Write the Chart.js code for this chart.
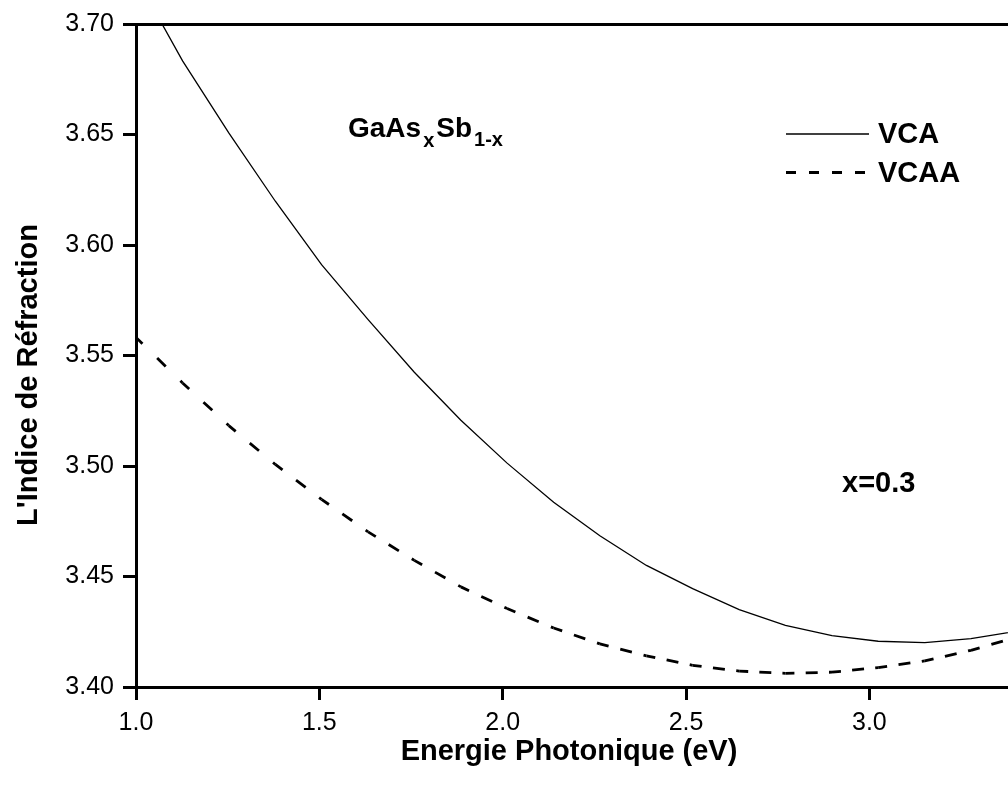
<!DOCTYPE html>
<html>
<head>
<meta charset="utf-8">
<title>Indice de réfraction GaAsxSb1-x</title>
<script src="https://cdn.jsdelivr.net/npm/chart.js@4/dist/chart.umd.min.js"></script>
<style>
  html, body { margin: 0; padding: 0; background: #fff; overflow: hidden; }
  canvas { display: block; }
</style>
</head>
<body>
<canvas id="chart" width="1008" height="790"></canvas>
<script>
// Photon energy grid (eV) and refractive index for the two approximations
const energy = [1.000, 1.127, 1.253, 1.380, 1.506, 1.633, 1.759, 1.886, 2.012, 2.139,
                2.265, 2.392, 2.518, 2.645, 2.771, 2.898, 3.024, 3.151, 3.277, 3.404];
const indexVCA = [3.7212, 3.6833, 3.6507, 3.6198, 3.5911, 3.5662, 3.5424, 3.5207, 3.5013, 3.4836,
                  3.4684, 3.4550, 3.4445, 3.4350, 3.4279, 3.4232, 3.4207, 3.4201, 3.4219, 3.4253];
const indexVCAA = [3.5582, 3.5376, 3.5183, 3.5007, 3.4849, 3.4702, 3.4573, 3.4453, 3.4355, 3.4267,
                   3.4195, 3.4141, 3.4098, 3.4072, 3.4062, 3.4067, 3.4088, 3.4118, 3.4166, 3.4227];
const seriesNames = ['VCA', 'VCAA'];
const xTicks = [1.0, 1.5, 2.0, 2.5, 3.0];
const yTicks = [3.40, 3.45, 3.50, 3.55, 3.60, 3.65, 3.70];
const xRange = [1.0, 3.378];
const yRange = [3.40, 3.70];
const xTitle = 'Energie Photonique (eV)';
const yTitle = "L'Indice de Réfraction";
const compositionLabel = 'x=0.3';

const FAMILY = '"Liberation Sans", Arial, Helvetica, sans-serif';
const bold = s => `bold ${s}px ${FAMILY}`;

const toPoints = ys => energy.map((e, i) => ({ x: e, y: ys[i] }));

// Dashes restart on every data segment: two dashes per segment, gaps stretched to fit
const segmentDash = c => {
  const L = Math.hypot(c.p1.x - c.p0.x, c.p1.y - c.p0.y);
  return [12, Math.max((L - 24) / 2, 2)];
};

// Axis titles, formula, composition and legend drawn on top of the plot
const annotations = {
  id: 'annotations',
  afterDraw(chart) {
    const ctx = chart.ctx;
    ctx.save();
    ctx.fillStyle = '#000';
    ctx.strokeStyle = '#000';
    ctx.textBaseline = 'alphabetic';

    // axis titles
    ctx.font = bold(29);
    ctx.textAlign = 'center';
    ctx.fillText(xTitle, 569, 760);
    ctx.save();
    ctx.translate(37, 375);
    ctx.rotate(-Math.PI / 2);
    ctx.fillText(yTitle, 0, 0);
    ctx.restore();

    // GaAs_x Sb_1-x
    ctx.textAlign = 'left';
    const runs = [
      { text: 'GaAs', font: bold(28), y: 137, gap: 2 },
      { text: 'x', font: bold(20), y: 147, gap: 2 },
      { text: 'Sb', font: bold(28), y: 137, gap: 2 },
      { text: '1-x', font: bold(20), y: 146, gap: 0 }
    ];
    let x = 348;
    for (const r of runs) {
      ctx.font = r.font;
      ctx.fillText(r.text, x, r.y);
      x += ctx.measureText(r.text).width + r.gap;
    }

    // composition
    ctx.font = bold(29);
    ctx.fillText(compositionLabel, 842, 492);

    // legend
    const ds = chart.data.datasets;
    const rows = [
      { y: 134, dash: [], width: ds[0].borderWidth },
      { y: 172.5, dash: [10, 13], width: ds[1].borderWidth }
    ];
    rows.forEach((row, i) => {
      ctx.save();
      ctx.lineWidth = row.width;
      ctx.setLineDash(row.dash);
      ctx.beginPath();
      ctx.moveTo(786, row.y);
      ctx.lineTo(869, row.y);
      ctx.stroke();
      ctx.restore();
      ctx.font = bold(29);
      ctx.textBaseline = 'middle';
      ctx.fillText(ds[i].label, 878, row.y + 1);
    });
    ctx.restore();
  }
};

const axisColor = '#000';

new Chart(document.getElementById('chart'), {
  type: 'line',
  data: {
    datasets: [
      {
        label: seriesNames[0],
        data: toPoints(indexVCA),
        borderColor: '#000',
        borderWidth: 1.3,
        pointRadius: 0,
        fill: false,
        tension: 0
      },
      {
        label: seriesNames[1],
        data: toPoints(indexVCAA),
        borderColor: '#000',
        borderWidth: 2.8,
        pointRadius: 0,
        fill: false,
        tension: 0,
        segment: {
          borderDash: segmentDash,
          borderDashOffset: () => 3
        }
      }
    ]
  },
  options: {
    responsive: false,
    animation: false,
    devicePixelRatio: 1,
    events: [],
    layout: { padding: { top: 23, left: 0, right: 0, bottom: 0 } },
    plugins: {
      legend: { display: false },
      tooltip: { enabled: false },
      title: { display: false }
    },
    scales: {
      x: {
        type: 'linear',
        position: 'bottom',
        min: xRange[0],
        max: xRange[1],
        afterBuildTicks: s => { s.ticks = xTicks.map(v => ({ value: v })); },
        afterFit: s => { s.height = 103; },
        border: { display: true, color: axisColor, width: 3 },
        grid: {
          drawOnChartArea: false,
          drawTicks: true,
          tickLength: 13,
          tickWidth: 3,
          tickColor: axisColor,
          color: axisColor
        },
        ticks: {
          color: '#000',
          font: { family: FAMILY, size: 25 },
          padding: 8,
          maxRotation: 0,
          autoSkip: false,
          callback: v => Number(v).toFixed(1)
        }
      },
      xTop: {
        type: 'linear',
        position: 'top',
        min: xRange[0],
        max: xRange[1],
        border: { display: true, color: axisColor, width: 3 },
        grid: { display: false, drawTicks: false },
        ticks: { display: false }
      },
      y: {
        type: 'linear',
        position: 'left',
        min: yRange[0],
        max: yRange[1],
        afterBuildTicks: s => { s.ticks = yTicks.map(v => ({ value: v })); },
        afterFit: s => { s.width = 136; },
        border: { display: true, color: axisColor, width: 3 },
        grid: {
          drawOnChartArea: false,
          drawTicks: true,
          tickLength: 13,
          tickWidth: 3,
          tickColor: axisColor,
          color: axisColor
        },
        ticks: {
          color: '#000',
          font: { family: FAMILY, size: 25 },
          padding: 9,
          autoSkip: false,
          callback: v => Number(v).toFixed(2)
        }
      }
    }
  },
  plugins: [annotations]
});
</script>
</body>
</html>
